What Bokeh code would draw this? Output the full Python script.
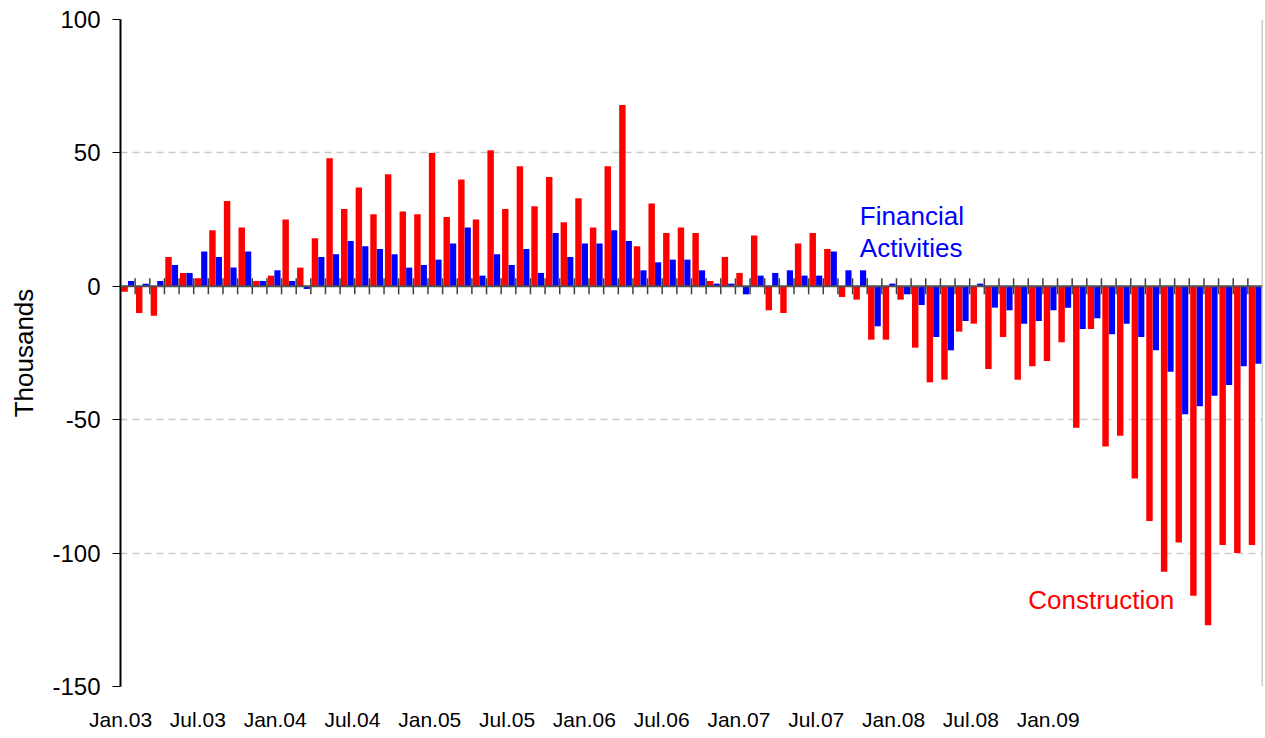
import numpy as np
from bokeh.plotting import figure
from bokeh.models import Range1d, LinearAxis, FixedTicker, Span, Label
from bokeh.embed import file_html
from bokeh.resources import INLINE

# Monthly change in employment (thousands), Jan 2003 - Jun 2009
construction = [-2, -10, -11, 11, 5, 3, 21, 32, 22, 2, 4, 25,
                7, 18, 48, 29, 37, 27, 42, 28, 27, 50, 26, 40,
                25, 51, 29, 45, 30, 41, 24, 33, 22, 45, 68, 15,
                31, 20, 22, 20, 2, 11, 5, 19, -9, -10, 16, 20,
                14, -4, -5, -20, -20, -5, -23, -36, -35, -17, -14, -31,
                -19, -35, -30, -28, -21, -53, -16, -60, -56, -72, -88, -107,
                -96, -116, -127, -97, -100, -97]
financial = [2, 1, 2, 8, 5, 13, 11, 7, 13, 2, 6, 2,
             -1, 11, 12, 17, 15, 14, 12, 7, 8, 10, 16, 22,
             4, 12, 8, 14, 5, 20, 11, 16, 16, 21, 17, 6,
             9, 10, 10, 6, 1, 1, -3, 4, 5, 6, 4, 4,
             13, 6, 6, -15, 1, -3, -7, -19, -24, -13, 1, -8,
             -9, -14, -13, -9, -8, -16, -12, -18, -14, -19, -24, -32,
             -48, -45, -41, -37, -30, -29]
tick_labels = ["Jan.03", "Jul.03", "Jan.04", "Jul.04", "Jan.05", "Jul.05",
               "Jan.06", "Jul.06", "Jan.07", "Jul.07", "Jan.08", "Jul.08", "Jan.09"]
y_ticks = [-150, -100, -50, 0, 50, 100]

n = len(construction)
idx = np.arange(n)

FONT = "Liberation Sans"

p = figure(frame_width=1142, frame_height=667, output_backend="svg", toolbar_location=None,
           x_range=Range1d(0, n), y_range=Range1d(-150, 100),
           min_border_left=120, min_border_right=1, min_border_top=19, min_border_bottom=46)
p.outline_line_color = None
p.background_fill_color = "white"
p.border_fill_color = "white"

# bars
p.vbar(x=idx + 0.5 - 0.22, top=construction, width=0.44, fill_color="#FF0000", line_color=None)
p.vbar(x=idx + 0.5 + 0.22, top=financial, width=0.42, fill_color="#0000FF", line_color=None)

# zero line with month ticks
p.add_layout(Span(location=0, dimension="width", line_color="#505050", line_width=2))
p.segment(x0=np.arange(1, n), y0=-3, x1=np.arange(1, n), y1=3, line_color="#404040", line_width=1.5)

# right border
p.add_layout(Span(location=n, dimension="height", line_color="#9a9a9a", line_width=1.5))

# y axis
p.yaxis.ticker = FixedTicker(ticks=y_ticks)
p.yaxis.major_label_overrides = {t: str(t) for t in y_ticks}
p.yaxis.axis_label = "Thousands"
p.yaxis.axis_label_text_font = FONT
p.yaxis.axis_label_text_font_size = "26px"
p.yaxis.axis_label_text_font_style = "normal"
p.yaxis.axis_label_text_color = "black"
p.yaxis.axis_label_standoff = 10
p.yaxis.major_label_text_font = FONT
p.yaxis.major_label_text_font_size = "24px"
p.yaxis.major_label_text_color = "black"
p.yaxis.major_label_standoff = 12
p.yaxis.axis_line_color = "black"
p.yaxis.axis_line_width = 2
p.yaxis.major_tick_out = 8
p.yaxis.major_tick_in = 0
p.yaxis.major_tick_line_color = "black"
p.yaxis.minor_tick_line_color = None

# grid
p.xgrid.visible = False
p.ygrid.ticker = FixedTicker(ticks=[-100, -50, 50])
p.ygrid.grid_line_color = "#c8c8c8"
p.ygrid.grid_line_dash = "7 5"
p.ygrid.grid_line_width = 1.5

# bottom labels axis (own range for label placement)
p.xaxis.visible = False
p.extra_x_ranges = {"lab": Range1d(-0.001, 14.773)}
lab_axis = LinearAxis(x_range_name="lab", ticker=FixedTicker(ticks=list(range(len(tick_labels)))),
                      major_label_overrides={i: t for i, t in enumerate(tick_labels)})
lab_axis.axis_line_color = None
lab_axis.major_tick_line_color = None
lab_axis.minor_tick_line_color = None
lab_axis.major_label_text_font = FONT
lab_axis.major_label_text_font_size = "21px"
lab_axis.major_label_text_color = "black"
lab_axis.major_label_standoff = 15
p.add_layout(lab_axis, "below")

# annotations
p.add_layout(Label(x=50.5, y=26.5, text="Financial", text_font=FONT, text_font_size="26px",
                   text_color="#0000FF", text_baseline="alphabetic"))
p.add_layout(Label(x=50.5, y=14.2, text="Activities", text_font=FONT, text_font_size="26px",
                   text_color="#0000FF", text_baseline="alphabetic"))
p.add_layout(Label(x=62.0, y=-117.6, text="Construction", text_font=FONT, text_font_size="26px",
                   text_color="#FF0000", text_baseline="alphabetic"))

open("out.html", "w").write(file_html(p, INLINE))
